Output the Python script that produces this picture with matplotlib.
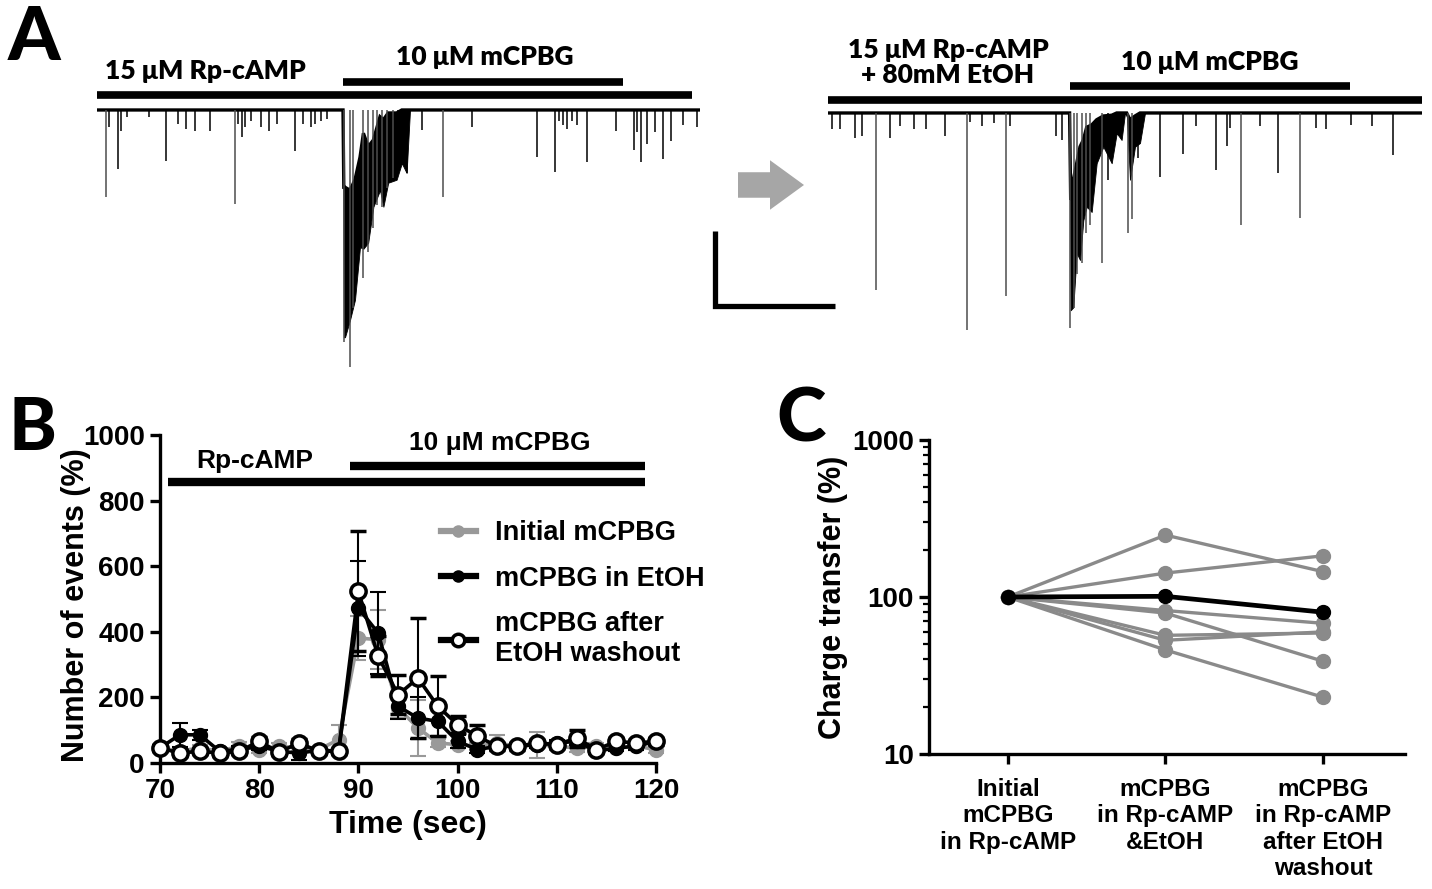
import matplotlib
matplotlib.use('Agg')
import matplotlib.pyplot as plt
from matplotlib.lines import Line2D
from matplotlib.patches import FancyArrow

W, H = 1432, 889

# ---- panel A, trace 1 (before EtOH): time (s), amplitude (pA)
tr1_end = 150.75
tr1_t = [2.3, 3.0, 5.2, 6.0, 7.4, 12.9, 17.3, 20.3, 22.3, 24.6, 28.2, 34.4, 35.2, 36.3,
         37.1, 38.6, 41.1, 43.1, 45.0, 49.5, 51.5, 53.4, 54.4, 55.9, 57.4,
         61.75, 63.25, 64.1, 66.6, 67.7, 69.1, 69.9, 71.3, 72.4, 74.1, 75.3, 76.2, 77.4,
         81.2, 86.6, 93.7, 109.9, 114.4, 115.5, 116.5, 117.5, 118.8, 120.0, 122.6,
         129.7, 134.2, 135.1, 136.1, 137.6, 139.6, 141.6, 143.6, 146.5, 150.0]
tr1_amp = [116, 23, 79, 28, 9, 9, 68, 19, 25, 28, 28, 125, 19, 36,
           23, 15, 23, 28, 19, 55, 19, 23, 19, 15, 12,
           309, 343, 264, 224, 190, 157, 127, 129, 104, 91, 80, 69, 84,
           27, 116, 23, 63, 83, 15, 20, 25, 15, 20, 69,
           28, 54, 30, 69, 45, 30, 65, 41, 20, 23]
burst1_t = [61.5, 61.7, 62.0, 63.25, 64.5, 65.75, 66.6, 67.8, 69.1, 70.75, 71.6, 72.8,
            74.9, 76.2, 77.4, 78.25]
burst1_hi = [0, -103, -103, -107, -93, -63, -31, -49, -40, -9, -13, -4, -4, 0, 0, 0]
burst1_lo = [0, -303, -303, -280, -253, -183, -185, -177, -129, -107, -129, -97, -93,
             -71, -84, 0]

# ---- panel A, trace 2 (in EtOH)
tr2_end = 148.5
tr2_t = [1.0, 3.0, 6.8, 8.6, 11.9, 15.6, 18.1, 21.6, 24.6, 29.2, 34.8, 35.6, 38.5,
         41.4, 44.6, 45.5, 56.9, 58.4,
         60.6, 61.4, 62.3, 63.4, 64.4, 65.6, 68.6, 70.0, 75.1, 76.1, 77.4,
         83.0, 88.8, 92.0, 97.0, 99.7, 100.5, 103.3, 108.0, 112.6, 118.1, 122.0,
         124.4, 130.8, 136.0, 141.2]
tr2_amp = [22, 22, 33, 31, 236, 33, 18, 22, 22, 31, 289, 12, 18,
           14, 244, 18, 31, 36,
           287, 260, 215, 200, 160, 150, 200, 90, 160, 142, 60,
           85, 55, 18, 76, 44, 20, 150, 18, 80, 140, 20,
           22, 16, 18, 56]
burst2_t = [60.4, 60.67, 61.33, 62.17, 63.0, 63.83, 64.67, 65.92, 67.17, 68.83, 70.92,
            72.17, 73.4, 74.25, 74.67, 75.5, 76.75, 78.0, 79.25]
burst2_hi = [0, -116, -89, -67, -45, -36, -19, -16, -9, -4, -3, 0, 0, 0, 0, -9, -4, 0, 0]
burst2_lo = [0, -263, -259, -187, -196, -143, -125, -132, -67, -45, -67, -27, -36, 0, 0,
             -89, -45, -40, 0]

scale_t = 30     # s
scale_pa = 100   # pA

# ---- panel B
b_time = [70, 72, 74, 76, 78, 80, 82, 84, 86, 88, 90, 92, 94, 96, 98, 100, 102, 104,
          106, 108, 110, 112, 114, 116, 118, 120]
b_init = [46, 36, 46, 36, 51, 41, 51, 46, 41, 71, 381, 376, 168, 107, 61, 56, 51, 61,
          51, 56, 51, 46, 51, 46, 51, 41]
b_init_err = [10, 10, 10, 8, 12, 10, 10, 10, 8, 46, 66, 89, 30, 86, 12, 10, 10, 25,
              10, 40, 10, 12, 10, 10, 10, 10]
b_etoh = [46, 86, 86, 36, 41, 51, 36, 30, 39, 36, 472, 396, 173, 137, 127, 66, 41, 51,
          51, 56, 61, 66, 36, 46, 51, 66]
b_etoh_err = [10, 36, 16, 8, 10, 10, 10, 20, 8, 8, 145, 125, 40, 65, 45, 20, 10, 10,
              10, 10, 10, 10, 10, 10, 10, 10]
b_wash = [46, 30, 36, 30, 36, 66, 33, 61, 36, 36, 523, 325, 208, 259, 173, 117, 81, 51,
          51, 61, 56, 76, 41, 66, 61, 66]
b_wash_err = [10, 10, 10, 8, 8, 12, 10, 12, 8, 8, 183, 61, 60, 183, 91, 27, 36, 10,
              10, 10, 10, 26, 10, 10, 10, 10]

# ---- panel C
c_labels = ['Initial\nmCPBG\nin Rp-cAMP', 'mCPBG\nin Rp-cAMP\n&EtOH',
            'mCPBG\nin Rp-cAMP\nafter EtOH\nwashout']
c_cells = [[100, 248, 145],
           [100, 142, 183],
           [100, 82, 68],
           [100, 79, 39],
           [100, 57, 59],
           [100, 53, 60],
           [100, 46, 23]]
c_mean = [100, 101, 80]

plt.rcParams['font.family'] = ['Liberation Sans', 'DejaVu Sans']
plt.rcParams['font.weight'] = 'bold'
plt.rcParams['axes.labelweight'] = 'bold'
CAL = ['Lato', 'DejaVu Sans']


def px_box(left, top, right, bottom):
    return [left / W, 1 - bottom / H, (right - left) / W, (bottom - top) / H]


fig = plt.figure(figsize=(W / 100, H / 100), dpi=100)
fig.patch.set_facecolor('white')


def draw_trace(ax, end, ev_t, ev_amp, b_t, b_hi, b_lo):
    xs = [0] + list(b_t) + [end]
    ys = [0] + list(b_hi) + [0]
    ax.plot(xs, ys, color='black', lw=2.4, solid_joinstyle='miter')
    ax.fill_between(b_t, b_hi, b_lo, color='black', lw=0.6)
    for t, a in zip(ev_t, ev_amp):
        col = '#4d4d4d' if a > 90 else 'black'
        ax.vlines(t, 0, -a, color=col, lw=1.1)
    ax.axis('off')


# trace 1
ax1 = fig.add_axes(px_box(97, 40, 700, 380))
ax1.set_xlim(0, tr1_end)
ax1.set_ylim(-360, 93.3)
draw_trace(ax1, tr1_end, tr1_t, tr1_amp, burst1_t, burst1_hi, burst1_lo)
ax1.plot([0, 148.75], [20, 20], color='black', lw=5.5, solid_capstyle='butt')
ax1.plot([61.5, 131.5], [37.3, 37.3], color='black', lw=5.5, solid_capstyle='butt')
ax1.text(27, 52, '15 μM Rp-cAMP', ha='center', va='center', fontsize=19,
         family=CAL, weight='heavy')
ax1.text(97, 71, '10 μM mCPBG', ha='center', va='center', fontsize=19,
         family=CAL, weight='heavy')

# trace 2
ax2 = fig.add_axes(px_box(828, 40, 1422, 380))
ax2.set_xlim(0, tr2_end)
ax2.set_ylim(-356, 97.3)
draw_trace(ax2, tr2_end, tr2_t, tr2_amp, burst2_t, burst2_hi, burst2_lo)
ax2.plot([-0.75, tr2_end], [17.3, 17.3], color='black', lw=5.5, solid_capstyle='butt')
ax2.plot([60.5, 130.5], [36, 36], color='black', lw=5.5, solid_capstyle='butt')
ax2.text(30, 67, '15 μM Rp-cAMP\n+ 80mM EtOH', ha='center', va='center', fontsize=19,
         family=CAL, weight='heavy', linespacing=1.05)
ax2.text(95.5, 68, '10 μM mCPBG', ha='center', va='center', fontsize=19,
         family=CAL, weight='heavy')
# scale bar
sb_x, sb_y = -28.25, -257
ax2.plot([sb_x, sb_x, sb_x + scale_t], [sb_y + scale_pa, sb_y, sb_y], color='black',
         lw=3.8, clip_on=False, solid_joinstyle='miter', solid_capstyle='butt')
# arrow
ax2.add_patch(FancyArrow(-22.5, -96, 16.5, 0, width=34, head_width=66, head_length=8.5,
                         length_includes_head=True, color='#a6a6a6', lw=0, clip_on=False))

# panel letters
fig.text(8 / W, 1 - 60 / H, 'A', fontsize=54, family=CAL, weight='black')
fig.text(9 / W, 1 - 450 / H, 'B', fontsize=52, family=CAL, weight='black')
fig.text(776 / W, 1 - 442 / H, 'C', fontsize=54, family=CAL, weight='black')

# ---- panel B
axb = fig.add_axes(px_box(160, 435, 656, 763))
eb = dict(lw=2.6, marker='o', elinewidth=1.5, capsize=6, capthick=1.5, clip_on=False)
axb.errorbar(b_time, b_init, yerr=b_init_err, color='#999999', ms=10, mfc='#999999',
             mec='#999999', zorder=2, **eb)
axb.errorbar(b_time, b_etoh, yerr=b_etoh_err, color='black', ms=10, mfc='black',
             mec='black', zorder=3, **eb)
axb.errorbar(b_time, b_wash, yerr=b_wash_err, color='black', ms=11, mfc='white',
             mec='black', mew=2.5, zorder=4, **eb)
axb.set_xlim(70, 120)
axb.set_ylim(0, 1000)
axb.set_xticks([70, 80, 90, 100, 110, 120])
axb.set_yticks([0, 200, 400, 600, 800, 1000])
axb.plot([70.8, 118.9], [857, 857], color='black', lw=6, solid_capstyle='butt',
         clip_on=False)
axb.plot([89.2, 118.9], [905, 905], color='black', lw=6, solid_capstyle='butt',
         clip_on=False)
axb.text(79.6, 922, 'Rp-cAMP', ha='center', va='center', fontsize=19)
axb.text(104.2, 975, '10 μM mCPBG', ha='center', va='center', fontsize=19)
axb.set_xlabel('Time (sec)', fontsize=23, labelpad=4)
axb.set_ylabel('Number of events (%)', fontsize=22)
axb.yaxis.set_label_coords(-0.14, 0.48)
handles = [Line2D([], [], color='#999999', lw=4.5, marker='o', ms=8),
           Line2D([], [], color='black', lw=4.5, marker='o', ms=8),
           Line2D([], [], color='black', lw=4.5, marker='o', ms=9, mfc='white', mew=2.5)]
axb.legend(handles, ['Initial mCPBG', 'mCPBG in EtOH', 'mCPBG after\nEtOH washout'],
           loc='upper left', bbox_to_anchor=(0.517, 0.815), frameon=False,
           fontsize=19.5, handlelength=1.3, handletextpad=0.7, labelspacing=0.72)

# ---- panel C
axc = fig.add_axes(px_box(929, 440, 1405, 754))
axc.set_yscale('log')
for cell in c_cells:
    axc.plot(range(len(cell)), cell, color='#8a8a8a', lw=2.4, marker='o', ms=10,
             clip_on=False, zorder=2)
axc.plot(range(len(c_mean)), c_mean, color='black', lw=3.4, marker='o', ms=10,
         clip_on=False, zorder=3)
axc.set_xlim(-0.5, 2.52)
axc.set_ylim(10, 1000)
axc.set_xticks(range(len(c_labels)))
axc.set_xticklabels(c_labels, linespacing=1.2)
axc.set_yticks([10, 100, 1000])
axc.set_yticklabels(['10', '100', '1000'])
axc.set_ylabel('Charge transfer (%)', fontsize=22, labelpad=3)

for ax in (axb, axc):
    for s in ('top', 'right'):
        ax.spines[s].set_visible(False)
    for s in ('left', 'bottom'):
        ax.spines[s].set_linewidth(2.4)
    ax.tick_params(which='major', length=7, width=2.4, labelsize=20, pad=4)
    ax.tick_params(which='minor', length=4, width=1.6)
axc.tick_params(axis='x', labelsize=17.5, pad=10)

fig.savefig('out.png', dpi=100, facecolor='white')
